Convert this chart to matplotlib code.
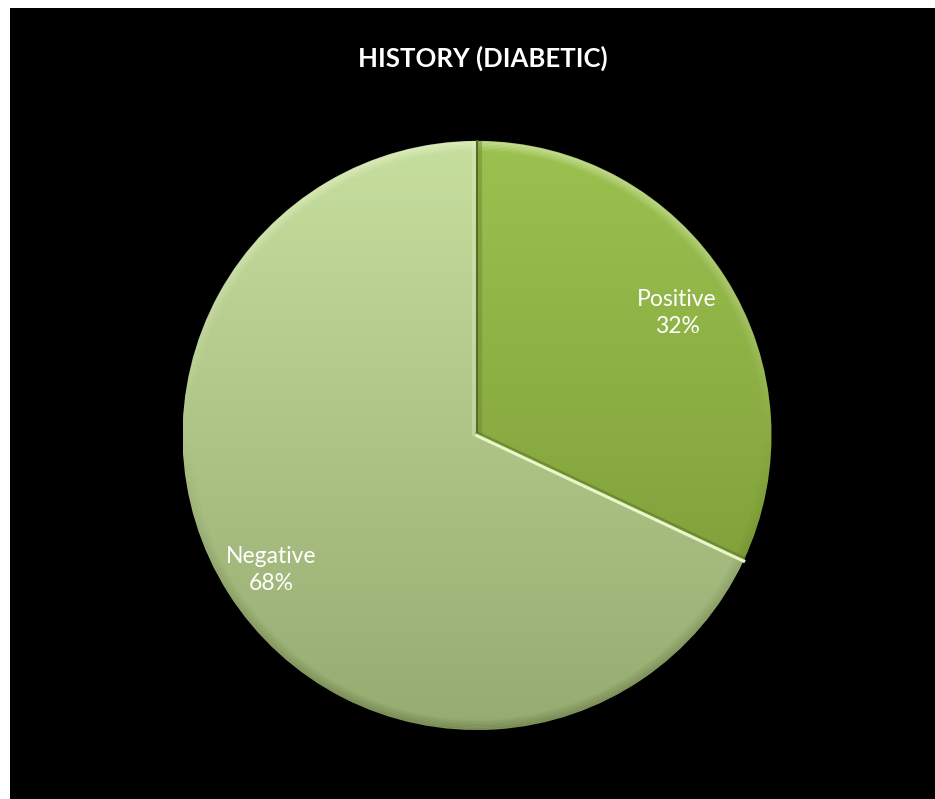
import numpy as np
import matplotlib
matplotlib.use('Agg')
import matplotlib.pyplot as plt
import matplotlib.colors as mcolors
from matplotlib.patches import Rectangle
from matplotlib.collections import LineCollection

# data
labels=['Positive','Negative']
pcts=[32,68]
# top / bottom shades for each slice
ctop=['#9cc150','#c6de9e']
cbot=['#779633','#96ab70']

fig=plt.figure(figsize=(9.35,7.99),dpi=100)
fig.patch.set_facecolor('white')
ax=fig.add_axes([0,0,1,1])

cx,cy,r=477,363.5,294.5
wedges,_=ax.pie(pcts,startangle=90,counterclock=False,center=(cx,cy),radius=r,
                wedgeprops=dict(linewidth=0,edgecolor='none'),frame=True)
ax.set_xlim(0,935)
ax.set_ylim(0,799)
ax.set_aspect('equal')
ax.axis('off')

# black chart area
ax.add_patch(Rectangle((10,0),925,791,facecolor='black',edgecolor='none',zorder=0))

# vertical gradient fill clipped to each wedge
g=np.linspace(0,1,256).reshape(-1,1)
for w,c1,c2 in zip(wedges,ctop,cbot):
    cm=mcolors.LinearSegmentedColormap.from_list('g',[c2,c1])
    w.set_facecolor('none')
    im=ax.imshow(g,cmap=cm,origin='lower',extent=(cx-r,cx+r,cy-r,cy+r),
                 aspect='auto',zorder=1,interpolation='bilinear')
    im.set_clip_path(w)

# bevel rim: light towards the top, darker towards the bottom
th=np.linspace(0,2*np.pi,721)
s=np.sin(0.5*(th[:-1]+th[1:]))
for k in range(7):
    rr=r-0.8-k*1.4
    xs=cx+rr*np.cos(th)
    ys=cy+rr*np.sin(th)
    segs=np.stack([np.column_stack([xs[:-1],ys[:-1]]),np.column_stack([xs[1:],ys[1:]])],axis=1)
    fade=1-k/7
    lite=np.clip(s,0,1)*0.35*fade
    dark=np.clip(-s,0,1)*0.22*fade
    ax.add_collection(LineCollection(segs,colors=[(0.96,1,0.85,a) for a in lite],lw=1.5,zorder=2))
    ax.add_collection(LineCollection(segs,colors=[(0.22,0.28,0.1,a) for a in dark],lw=1.5,zorder=2))

# separator edges
a2=np.deg2rad(90-360*pcts[0]/100)
ax.plot([cx,cx],[cy,cy+r],color='#55692a',lw=1.5,zorder=3)
ax.plot([cx-3,cx-3],[cy+2,cy+r-2],color='#e2f2c0',lw=3,alpha=0.35,zorder=3)
ax.plot([cx+3,cx+3],[cy+2,cy+r-2],color='#6f8a33',lw=3,alpha=0.5,zorder=3)
ax.plot([cx,cx+r*np.cos(a2)],[cy,cy+r*np.sin(a2)],color='#e9f7c8',lw=2.5,zorder=3)
ax.plot([cx,cx+r*np.cos(a2)],[cy+3,cy+3+r*np.sin(a2)],color='#5e7a28',lw=2,alpha=0.6,zorder=3)

# labels
ax.text(677,799-313,'%s\n%d%%'%(labels[0],pcts[0]),ha='center',va='center',
        color='white',fontsize=16.5,family='Lato',linespacing=1.35,zorder=4)
ax.text(271,799-570,'%s\n%d%%'%(labels[1],pcts[1]),ha='center',va='center',
        color='white',fontsize=16.5,family='Lato',linespacing=1.35,zorder=4)

ax.text(483,799-58,'HISTORY (DIABETIC)',ha='center',va='center',color='white',
        fontsize=18.5,fontweight='bold',family='Lato',zorder=4)

fig.savefig('out.png',dpi=100,facecolor=fig.get_facecolor())
